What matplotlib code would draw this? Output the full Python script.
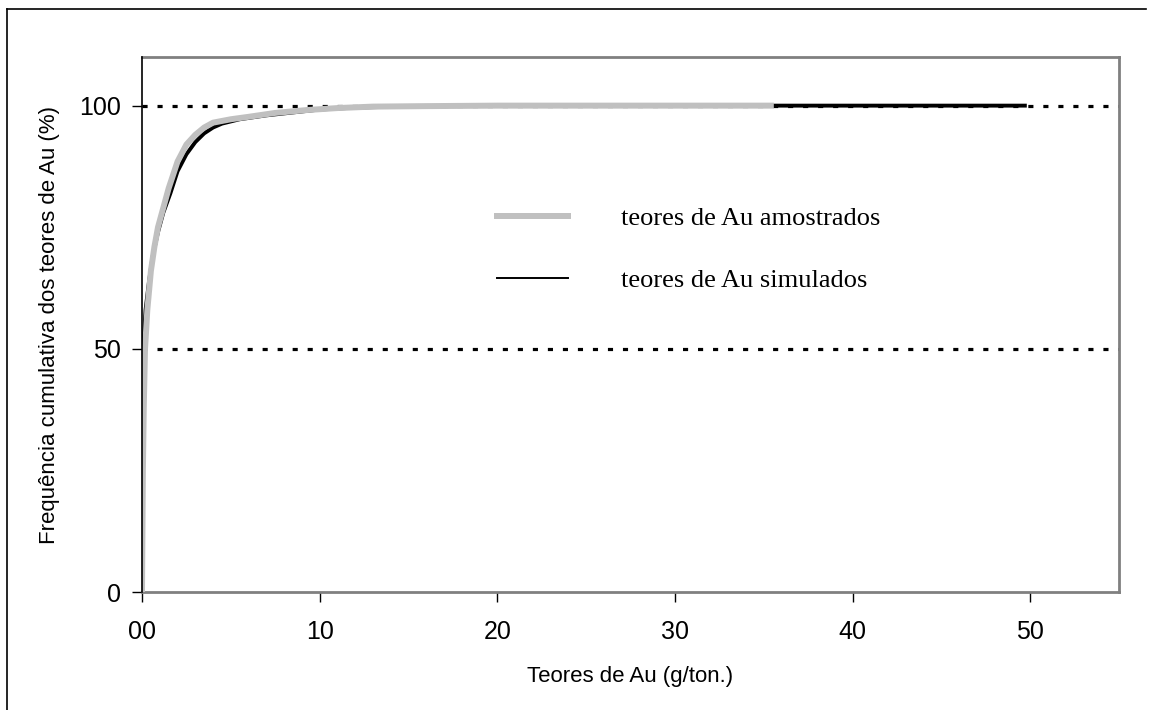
import matplotlib
matplotlib.use("Agg")
import matplotlib.pyplot as plt
from matplotlib.lines import Line2D

# cumulative frequency curves (x: g/ton, y: %)
sampled_x = [0, 0.02, 0.05, 0.1, 0.17, 0.3, 0.5, 0.7, 0.9, 1.2, 1.5, 2.0, 2.5, 3.0, 3.5, 4.0,
             5.0, 6.0, 7.5, 9.3, 11, 13, 16, 20, 25, 30, 35.4]
sampled_y = [0, 10, 25, 38, 50, 58, 66, 71, 75, 79, 83, 88.5, 92, 94, 95.5, 96.5,
             97.2, 97.7, 98.5, 99.1, 99.5, 99.8, 99.9, 100, 100, 100, 100]
sim_x = [0, 0, 0.02, 0.05, 0.1, 0.2, 0.4, 0.6, 0.9, 1.2, 1.6, 2.0, 2.5, 3.0, 3.5, 4.0,
         4.5, 5.5, 7, 8.5, 10, 12, 15, 20, 30, 40, 49.7]
sim_y = [0, 5, 30, 44, 52, 58, 64, 69, 74, 78, 82, 86.5, 90, 92.5, 94.3, 95.5,
         96.3, 97.2, 98, 98.6, 99.2, 99.6, 99.85, 100, 100, 100, 100]
x_ticks = [0, 10, 20, 30, 40, 50]
x_ticklabels = ["00", "10", "20", "30", "40", "50"]
y_ticks = [0, 50, 100]
labels = ["teores de Au amostrados", "teores de Au simulados"]

plt.rcParams["font.family"] = ["Liberation Sans", "DejaVu Sans"]

fig = plt.figure(figsize=(11.49, 7.10), dpi=100)
ax = fig.add_axes([142 / 1149, 118 / 710, (1119 - 142) / 1149, (592 - 57) / 710])

# dotted horizontal gridlines
for yv in [50, 100]:
    ax.axhline(yv, color="black", lw=2.3, ls=(0, (1.6, 3.1)), zorder=1)

ax.plot(sim_x, sim_y, color="black", lw=2.8, solid_joinstyle="round", zorder=2)
ax.plot(sampled_x, sampled_y, color="#c0c0c0", lw=4.3, solid_joinstyle="round", zorder=3)

ax.set_xlim(0, 55)
ax.set_ylim(0, 110)
ax.set_xticks(x_ticks)
ax.set_xticklabels(x_ticklabels)
ax.set_yticks(y_ticks)
ax.tick_params(direction="out", length=7, width=1, labelsize=18, pad=8, color="black")
ax.tick_params(axis="x", pad=13)

for side in ["top", "right", "bottom"]:
    ax.spines[side].set_color("#808080")
    ax.spines[side].set_linewidth(2)
ax.spines["left"].set_color("black")
ax.spines["left"].set_linewidth(1.2)
ax.spines["left"].set_zorder(4)

ax.set_xlabel("Teores de Au (g/ton.)", fontsize=16, labelpad=16)
ax.set_ylabel("Frequência cumulativa dos teores de Au (%)", fontsize=16, labelpad=14)

handles = [Line2D([], [], color="#c0c0c0", lw=4.3),
           Line2D([], [], color="black", lw=1.4)]
ax.legend(handles, labels, loc="upper left", bbox_to_anchor=(0.35, 0.745),
          frameon=False, prop={"family": "Liberation Serif", "size": 19},
          handlelength=2.7, handletextpad=2.0, labelspacing=1.45, borderpad=0)

# outer chart frame
fig.add_artist(Line2D([7 / 1149, 7 / 1149], [0, 1 - 9 / 710], color="black", lw=1.2))
fig.add_artist(Line2D([7 / 1149, 1146 / 1149], [1 - 9 / 710, 1 - 9 / 710], color="black", lw=1.2))

fig.savefig("out.png", dpi=100)
